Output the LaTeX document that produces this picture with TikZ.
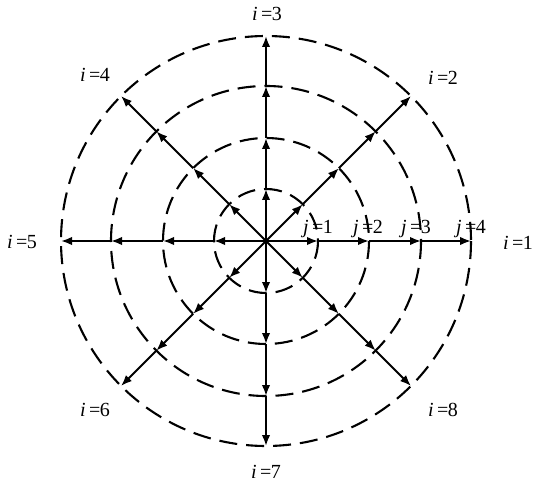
\documentclass[tikz,border=0pt]{standalone}
\usepackage{fontspec}
\setmainfont{Liberation Serif}
\usetikzlibrary{arrows.meta,calc}
\tikzset{
  ring/.style={line width=2.1pt, dash pattern=on 18pt off 9pt},
  arr/.style={line width=1.9pt, -{Latex[length=11pt,width=8.5pt]}},
  lab/.style={font=\fontsize{20}{22}\selectfont, inner sep=0pt}
}
\newcommand{\ilab}[1]{{\itshape i}\,=\kern-0.5pt#1}
\newcommand{\jlab}[1]{{\itshape j}\,=\kern-0.5pt#1}
\begin{document}
\begin{tikzpicture}[x=1pt,y=-1pt]
\useasboundingbox (0,0) rectangle (538,489);
\coordinate (c) at (266,241);
\foreach \r [count=\k] in {52,103,155,205}
  \draw[ring] (c) circle[radius=\r];
\foreach \i in {1,...,8}{
  \pgfmathsetmacro{\ang}{-(\i-1)*45}
  \coordinate (p\i-0) at (c);
  \foreach \r [count=\j] in {52,103,155,205}
    \coordinate (p\i-\j) at ($(c)+(\ang:\r)$);
}
\foreach \i in {1,...,8}{
  \draw[arr] (p\i-0) -- (p\i-1);
  \draw[arr] (p\i-1) -- (p\i-2);
  \draw[arr] (p\i-2) -- (p\i-3);
  \draw[arr] (p\i-3) -- (p\i-4);
}
\fill (c) circle[radius=2.2pt];
\node[lab] (j1) at (318,229) {\jlab{1}};
\node[lab] (j2) at (368,229) {\jlab{2}};
\node[lab] (j3) at (416,229) {\jlab{3}};
\node[lab] (j4) at (471,229) {\jlab{4}};
\node[lab] (i1) at (518,243) {\ilab{1}};
\node[lab] (i2) at (443,78) {\ilab{2}};
\node[lab] (i3) at (267,14) {\ilab{3}};
\node[lab] (i4) at (95,75) {\ilab{4}};
\node[lab] (i5) at (22,242) {\ilab{5}};
\node[lab] (i6) at (95,410) {\ilab{6}};
\node[lab] (i7) at (266,472) {\ilab{7}};
\node[lab] (i8) at (443,410) {\ilab{8}};
\end{tikzpicture}
\end{document}
